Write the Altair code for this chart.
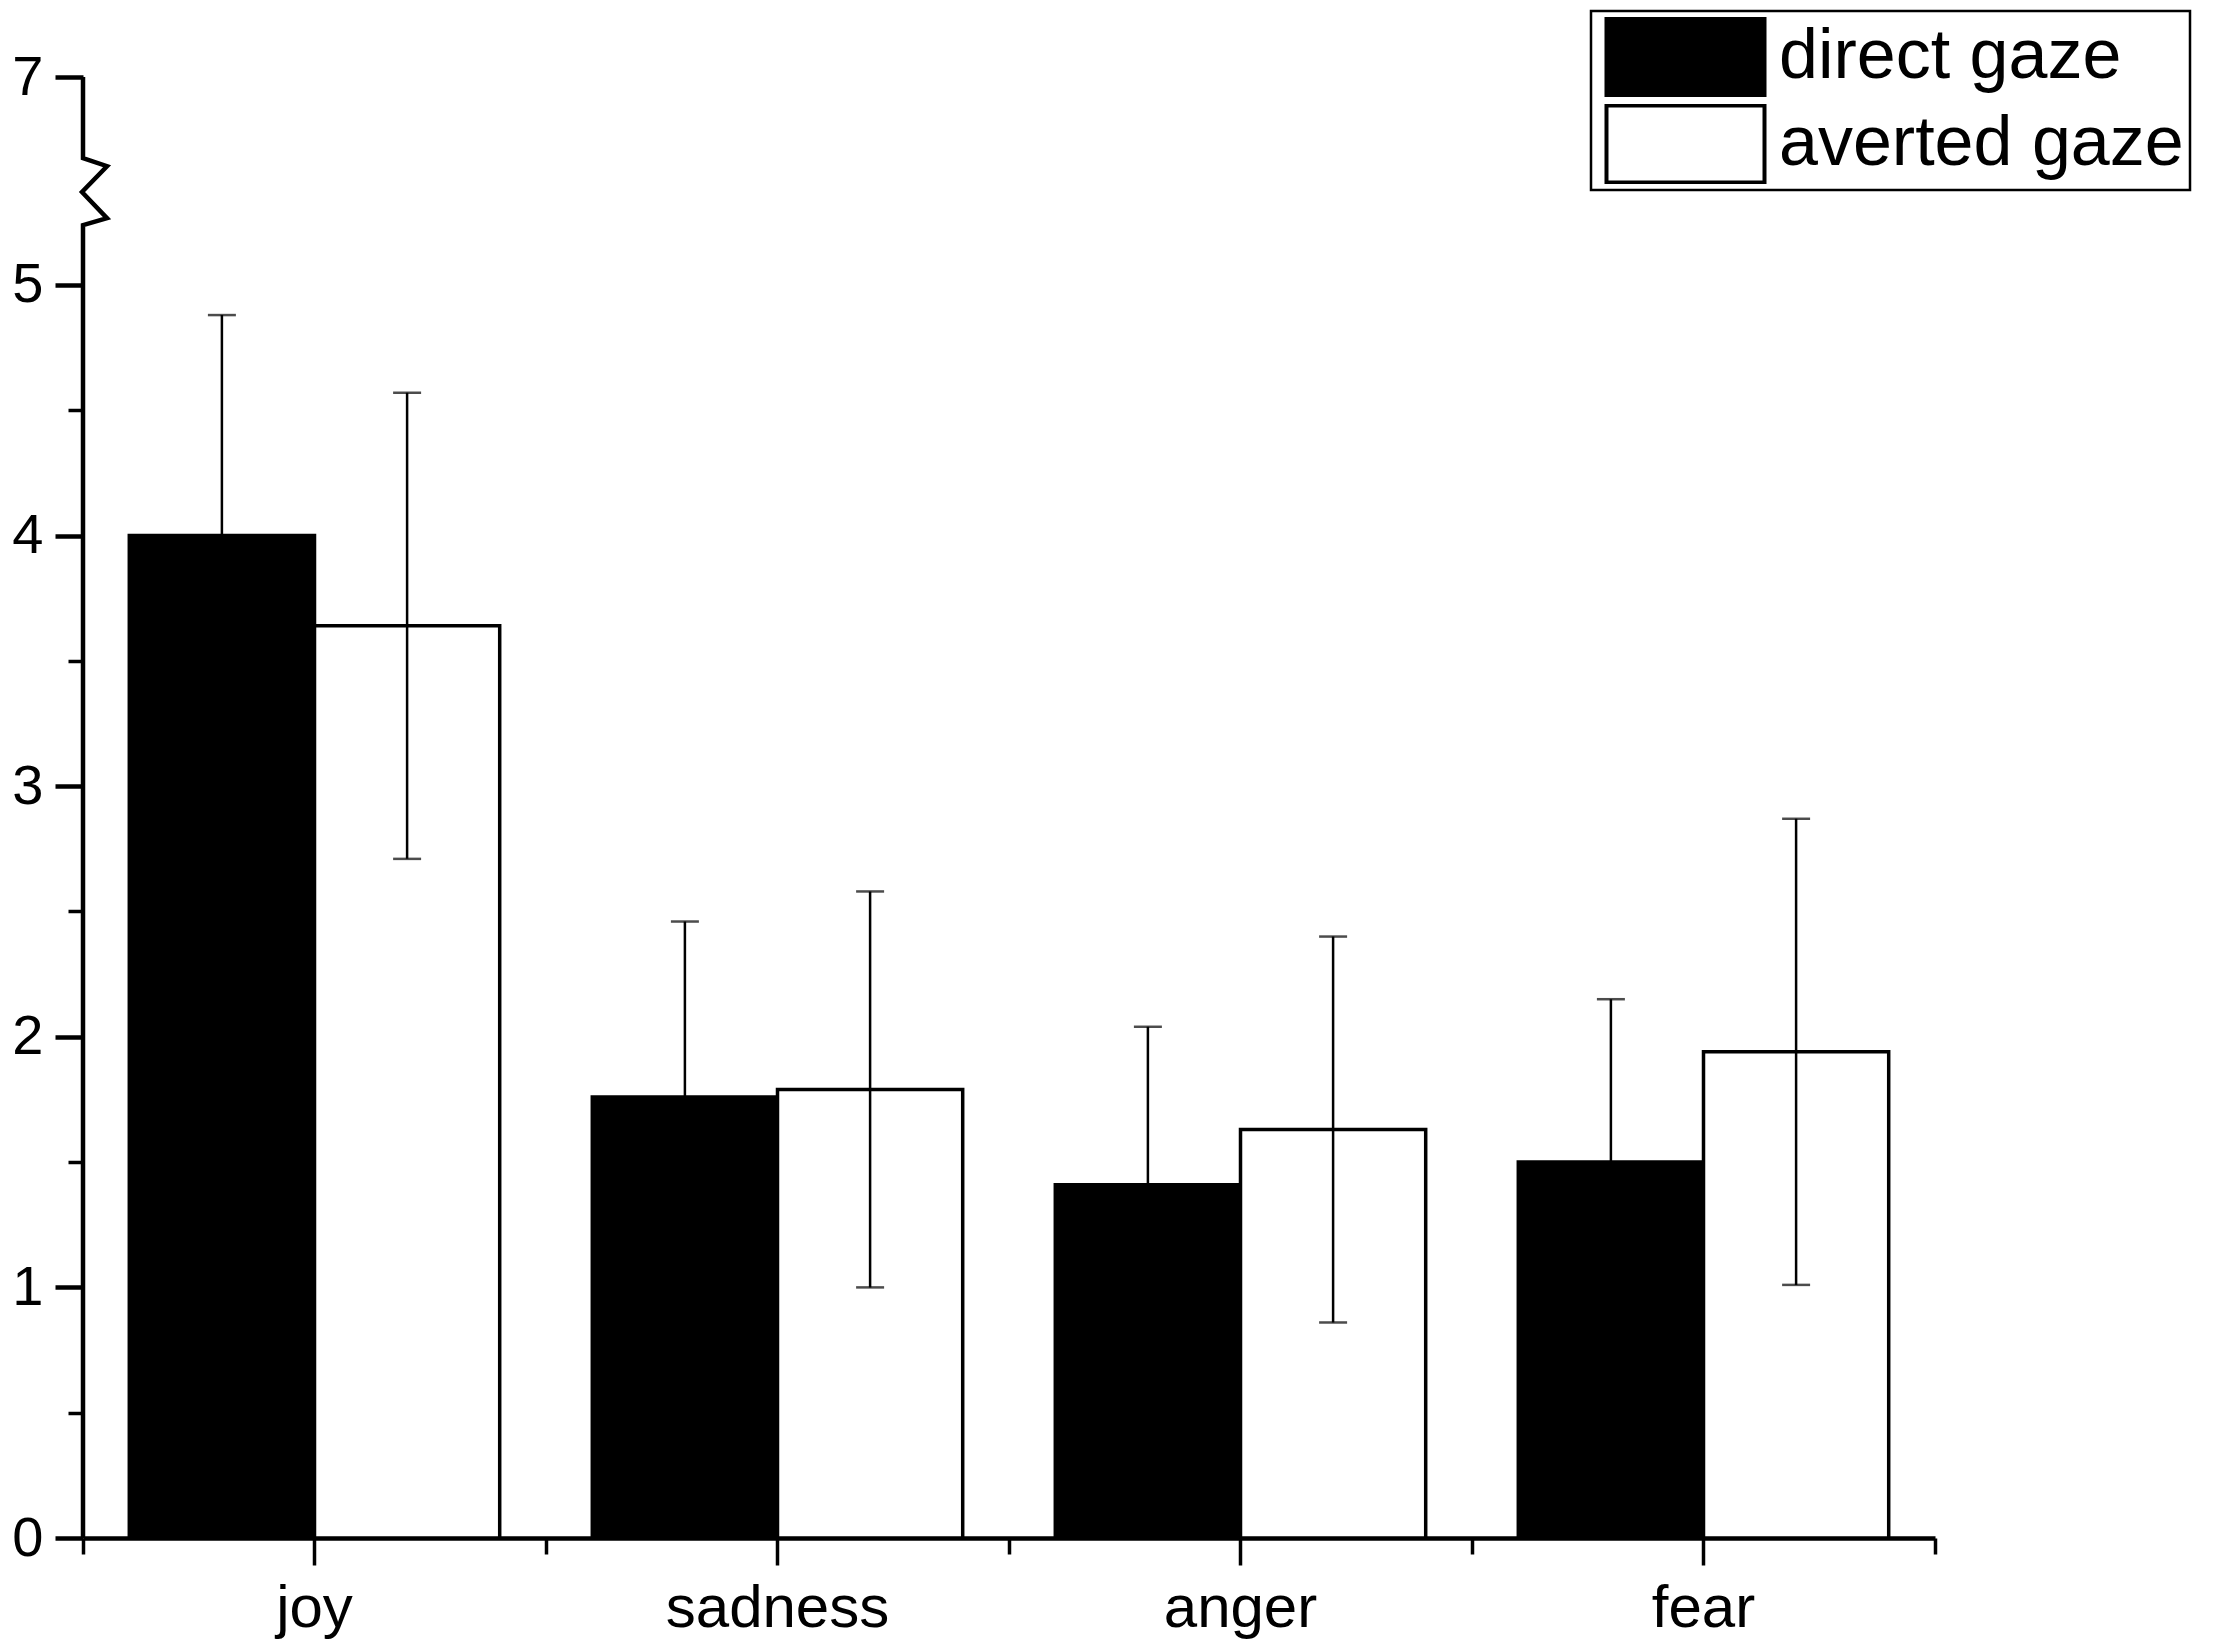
import altair as alt
import pandas as pd

# ---- data ----
emotions = ["joy", "sadness", "anger", "fear"]
gazes = ["direct gaze", "averted gaze"]
direct_mean = [4.00, 1.76, 1.41, 1.50]
direct_err = [0.88, 0.70, 0.63, 0.65]
averted_mean = [3.64, 1.79, 1.63, 1.94]
averted_err = [0.93, 0.79, 0.77, 0.93]

# y-axis: linear 0..5, then a break, top tick labelled 7
y_top = 5.83
major_ticks = [0, 1, 2, 3, 4, 5, y_top]
minor_ticks = [0.5, 1.5, 2.5, 3.5, 4.5]

# axis break polyline (pixel x from the axis, data y)
break_px = [0, 0, 24, -1, 24, 0, 0]
break_y = [y_top, 5.506, 5.474, 5.371, 5.267, 5.239, 0]

rows = []
for i, e in enumerate(emotions):
    rows.append({"emotion": e, "gaze": gazes[0], "mean": direct_mean[i], "err": direct_err[i]})
    rows.append({"emotion": e, "gaze": gazes[1], "mean": averted_mean[i], "err": averted_err[i]})
df = pd.DataFrame(rows)
df["lo"] = df["mean"] - df["err"]
df["hi"] = df["mean"] + df["err"]
caps = pd.concat([
    df[["emotion", "gaze", "lo"]].rename(columns={"lo": "v"}),
    df[["emotion", "gaze", "hi"]].rename(columns={"hi": "v"}),
])
brk = pd.DataFrame({"px": break_px, "y": break_y, "i": list(range(len(break_px)))})

FONT = "Liberation Sans"
yscale = alt.Scale(domain=[0, y_top], nice=False, zero=True)
xscale = alt.Scale(paddingInner=0, paddingOuter=0)
oscale = alt.Scale(domain=gazes, paddingInner=0, paddingOuter=0.25)

x_major = alt.Axis(title=None, labelAngle=0, labelFontSize=60, labelFont=FONT,
                   labelColor="black", labelPadding=14, labelLimit=0, tickSize=27, tickWidth=3.5,
                   tickColor="black", domainColor="black", domainWidth=4.5, grid=False,
                   orient="bottom")
x_minor = alt.Axis(title=None, labels=False, domain=False, tickSize=16, tickWidth=3.5,
                   tickColor="black", bandPosition=1, tickExtra=True, grid=False,
                   orient="bottom")
y_major = alt.Axis(title=None, values=major_ticks,
                   labelExpr="datum.value > 5.5 ? '7' : datum.label",
                   labelFontSize=56, labelFont=FONT, labelColor="black", labelPadding=12,
                   tickSize=28, tickWidth=4.5, tickColor="black", domain=False, grid=False,
                   orient="left")
y_minor = alt.Axis(title=None, values=minor_ticks, labels=False, domain=False,
                   tickSize=15, tickWidth=3.5, tickColor="black", grid=False, orient="left")

base = alt.Chart(df)

bars = base.mark_bar(stroke="black", strokeWidth=3.5).encode(
    x=alt.X("emotion:N", sort=emotions, scale=xscale, axis=x_major),
    xOffset=alt.XOffset("gaze:N", sort=gazes, scale=oscale),
    y=alt.Y("mean:Q", scale=yscale, axis=y_major),
    fill=alt.Fill("gaze:N", sort=gazes,
                  scale=alt.Scale(domain=gazes, range=["black", "white"]),
                  legend=alt.Legend(title=None, orient="none", legendX=1508, legendY=-66,
                                    symbolType="M-2.29,-1.116H2.29V1.116H-2.29Z", symbolSize=4761,
                                    symbolStrokeColor="black", symbolStrokeWidth=4,
                                    symbolOffset=52, labelOffset=57, rowPadding=7,
                                    clipHeight=80,
                                    labelFontSize=70, labelFont=FONT, labelColor="black",
                                    labelLimit=0, padding=6, strokeColor="black")),
)

whisk = base.mark_rule(color="black", strokeWidth=2.5).encode(
    x=alt.X("emotion:N", sort=emotions, scale=xscale, axis=x_minor),
    xOffset=alt.XOffset("gaze:N", sort=gazes, scale=oscale),
    y=alt.Y("lo:Q", scale=yscale, axis=y_minor),
    y2="hi:Q",
)

capm = alt.Chart(caps).mark_tick(color="black", thickness=2.5, size=28).encode(
    x=alt.X("emotion:N", sort=emotions, scale=xscale, axis=None),
    xOffset=alt.XOffset("gaze:N", sort=gazes, scale=oscale),
    y=alt.Y("v:Q", scale=yscale, axis=None),
)

brkline = alt.Chart(brk).mark_line(color="black", strokeWidth=4.5, strokeJoin="miter").encode(
    x=alt.X("px:Q", scale=None, axis=None),
    y=alt.Y("y:Q", scale=yscale, axis=None),
    order=alt.Order("i:Q"),
)

chart = alt.layer(bars, whisk, capm, brkline).resolve_axis(
    x="independent", y="independent"
).properties(
    width=1852, height=1461,
    autosize=alt.AutoSizeParams(type="none"),
    padding={"left": 75, "top": 69, "right": 287, "bottom": 103},
    background="white",
).configure_view(strokeWidth=0).configure_legend(strokeWidth=2.5)

chart.save("out.html", embed_options={"renderer": "svg", "actions": False})
